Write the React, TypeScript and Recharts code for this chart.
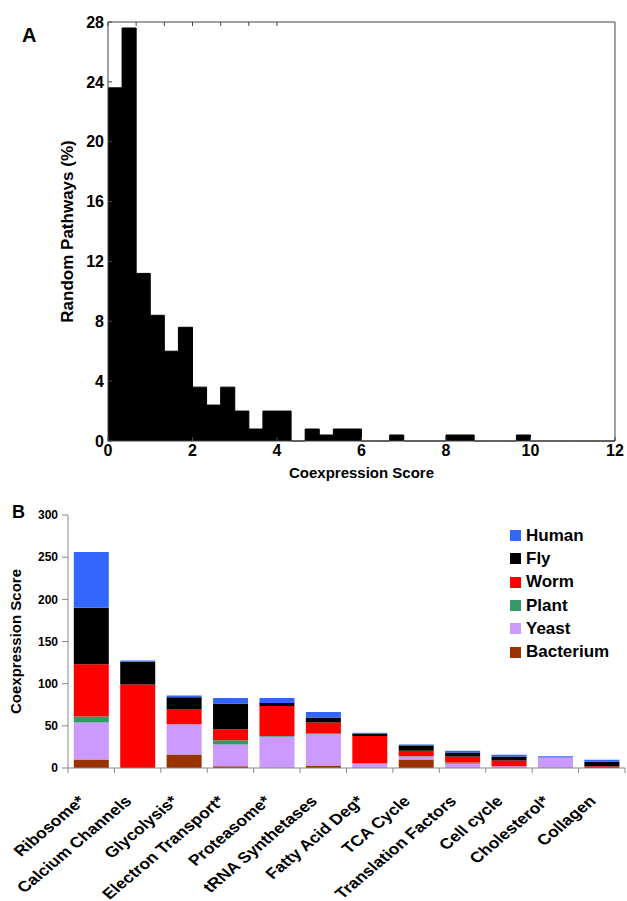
import React from "react";
import { AreaChart, Area, BarChart, Bar, XAxis, YAxis } from "recharts";

const FONT = "Arial, 'Liberation Sans', sans-serif";

// Panel A: histogram of random pathway coexpression scores (bins of 1/3)
const BIN_WIDTH = 1 / 3;
const randomPathwayPct = [
  23.6, 27.6, 11.2, 8.4, 6.0, 7.6, 3.6, 2.4, 3.6, 2.0, 0.8, 2.0,
  2.0, 0, 0.8, 0.4, 0.8, 0.8, 0, 0, 0.4, 0, 0, 0,
  0.4, 0.4, 0, 0, 0, 0.4, 0, 0, 0, 0, 0, 0,
];
const scoreTicks = [0, 2, 4, 6, 8, 10, 12];
const pctTicks = [0, 4, 8, 12, 16, 20, 24, 28];

// Panel B: stacked coexpression score per pathway and organism
const pathways = [
  "Ribosome*",
  "Calcium Channels",
  "Glycolysis*",
  "Electron Transport*",
  "Proteasome*",
  "tRNA Synthetases",
  "Fatty Acid Deg*",
  "TCA Cycle",
  "Translation Factors",
  "Cell cycle",
  "Cholesterol*",
  "Collagen",
];
const bacterium = [10, 0, 16, 2, 0, 3, 0, 10, 0, 0, 0, 0];
const yeast = [44, 0, 36, 26, 37, 37, 5, 3.5, 5, 2, 12.5, 0];
const plant = [7, 0, 0, 5, 1, 1, 0.5, 0.5, 1.5, 0, 0, 0];
const worm = [62, 99, 18, 13, 35.5, 13, 32.5, 6.5, 7, 7, 0, 2];
const fly = [67, 27, 14, 30.5, 3.5, 6, 2.5, 5.5, 5, 4.5, 0, 5.5];
const human = [66, 1.5, 2, 6.5, 6, 6.3, 1.2, 2, 2, 2.2, 1.3, 2.4];
const coexTicks = [0, 50, 100, 150, 200, 250, 300];

// bottom to top in the stack
const SPECIES = [
  { key: "bacterium", name: "Bacterium", color: "#993300", values: bacterium },
  { key: "yeast", name: "Yeast", color: "#cc99ff", values: yeast },
  { key: "plant", name: "Plant", color: "#339966", values: plant },
  { key: "worm", name: "Worm", color: "#ff0000", values: worm },
  { key: "fly", name: "Fly", color: "#000000", values: fly },
  { key: "human", name: "Human", color: "#3366ff", values: human },
];

const histData = randomPathwayPct
  .map((pct, i) => ({ score: i * BIN_WIDTH, pct }))
  .concat([{ score: 12, pct: 0 }]);

const barData = pathways.map((pathway, i) => {
  const row: any = { pathway };
  SPECIES.forEach((s) => {
    row[s.key] = s.values[i];
  });
  return row;
});

const boldTick = (size: number) => ({
  fontSize: size,
  fontWeight: "bold",
  fontFamily: FONT,
  fill: "#000",
});

// rotated y title centred on the axis
const yTitle = (text: string, cx: number, size: number) => (props: any) => {
  const vb = props.viewBox || {};
  const cy = vb.y + vb.height / 2;
  return (
    <text
      x={cx}
      y={cy}
      transform={`rotate(-90 ${cx} ${cy})`}
      textAnchor="middle"
      dominantBaseline="central"
      style={boldTick(size)}
    >
      {text}
    </text>
  );
};

const xTitle = (text: string, cy: number, size: number) => (props: any) => {
  const vb = props.viewBox || {};
  const cx = vb.x + vb.width / 2;
  return (
    <text x={cx} y={cy} textAnchor="middle" dominantBaseline="central" style={boldTick(size)}>
      {text}
    </text>
  );
};

// category labels: slanted, a bit stretched sideways like the original figure
const PathwayTick = (props: any) => {
  const { x, y, payload, index, visibleTicksCount } = props;
  const half = payload.offset ?? 557 / 24;
  const tx = x - 5;
  const ty = y + 34;
  return (
    <g>
      <line x1={x - half} x2={x - half} y1={y} y2={y + 5} stroke="#888" />
      {index === visibleTicksCount - 1 && (
        <line x1={x + half} x2={x + half} y1={y} y2={y + 5} stroke="#888" />
      )}
      <text
        x={0}
        y={0}
        transform={`translate(${tx} ${ty}) scale(1.18 1) rotate(-45)`}
        textAnchor="end"
        style={boldTick(15)}
      >
        {payload.value}
      </text>
    </g>
  );
};

function SpeciesLegend() {
  const items = [...SPECIES].reverse();
  return (
    <div style={{ position: "absolute", left: 510, top: 524, fontFamily: FONT }}>
      {items.map((s) => (
        <div key={s.key} style={{ display: "flex", alignItems: "center", height: 23.3 }}>
          <div style={{ width: 11, height: 11, backgroundColor: s.color, marginRight: 5 }} />
          <span style={{ fontSize: 17, fontWeight: "bold", color: "#000" }}>{s.name}</span>
        </div>
      ))}
    </div>
  );
}

export default function App() {
  return (
    <div
      style={{
        position: "absolute",
        left: 0,
        top: 0,
        width: 627,
        height: 901,
        background: "#fff",
        fontFamily: FONT,
      }}
    >
      <div style={{ position: "absolute", left: 0, top: 0 }}>
        <AreaChart width={627} height={490} data={histData} margin={{ top: 21, right: 0, left: 0, bottom: 0 }}>
          <XAxis
            dataKey="score"
            type="number"
            domain={[0, 12]}
            ticks={scoreTicks}
            height={49}
            tickSize={-4}
            tickMargin={8}
            stroke="#444"
            tick={boldTick(16)}
            label={{ content: xTitle("Coexpression Score", 472, 15) }}
          />
          <XAxis
            xAxisId="top"
            orientation="top"
            type="number"
            domain={[0, 12]}
            ticks={scoreTicks}
            height={1}
            tickSize={-4}
            stroke="#444"
            tickFormatter={() => ""}
          />
          <YAxis
            domain={[0, 28]}
            ticks={pctTicks}
            width={108}
            tickSize={-4}
            tickMargin={8}
            stroke="#444"
            tick={boldTick(16)}
            label={{ content: yTitle("Random Pathways (%)", 67, 17) }}
          />
          <YAxis
            yAxisId="right"
            orientation="right"
            domain={[0, 28]}
            ticks={pctTicks}
            width={12}
            tickSize={-4}
            stroke="#444"
            tickFormatter={() => ""}
          />
          <Area
            dataKey="pct"
            type="stepAfter"
            stroke="#000"
            strokeWidth={1}
            fill="#000"
            fillOpacity={1}
            dot={false}
            activeDot={false}
            isAnimationActive={false}
          />
        </AreaChart>
      </div>

      <div style={{ position: "absolute", left: 0, top: 490 }}>
        <BarChart
          width={627}
          height={411}
          data={barData}
          margin={{ top: 25, right: 2, left: 0, bottom: 0 }}
          barCategoryGap="12.5%"
        >
          <XAxis
            dataKey="pathway"
            interval={0}
            height={133}
            tickLine={false}
            tickSize={0}
            tickMargin={0}
            stroke="#888"
            tick={<PathwayTick />}
          />
          <YAxis
            domain={[0, 300]}
            ticks={coexTicks}
            width={68}
            tickSize={6}
            tickMargin={4}
            stroke="#888"
            tick={boldTick(12)}
            label={{ content: yTitle("Coexpression Score", 15, 15) }}
          />
          {SPECIES.map((s) => (
            <Bar
              key={s.key}
              dataKey={s.key}
              name={s.name}
              stackId="org"
              fill={s.color}
              isAnimationActive={false}
            />
          ))}
        </BarChart>
      </div>

      <SpeciesLegend />
      <div style={{ position: "absolute", left: 22, top: 24, fontSize: 20, fontWeight: "bold" }}>A</div>
      <div style={{ position: "absolute", left: 12, top: 502, fontSize: 18, fontWeight: "bold" }}>B</div>
    </div>
  );
}
